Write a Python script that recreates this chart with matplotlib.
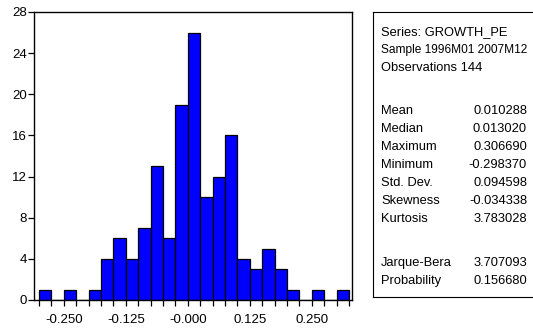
import matplotlib
matplotlib.use("Agg")
import matplotlib.pyplot as plt
import numpy as np

plt.rcParams['font.family'] = ['Liberation Sans', 'DejaVu Sans']

# Data
bin_start = -0.300
bin_width = 0.025
counts = [1, 0, 1, 0, 1, 4, 6, 4, 7, 13, 6, 19, 26, 10, 12, 16, 4, 3, 5, 3, 1, 0, 1, 0, 1]
xtick_values = [-0.250, -0.125, 0.000, 0.125, 0.250]
xtick_labels = ["-0.250", "-0.125", "-0.000", "0.125", "0.250"]
ytick_values = [0, 4, 8, 12, 16, 20, 24, 28]

header_lines = ["Series: GROWTH_PE", "Sample 1996M01 2007M12", "Observations 144"]
stat_names = ["Mean", "Median", "Maximum", "Minimum", "Std. Dev.", "Skewness", "Kurtosis"]
stat_values = ["0.010288", "0.013020", "0.306690", "-0.298370", "0.094598", "-0.034338", "3.783028"]
test_names = ["Jarque-Bera", "Probability"]
test_values = ["3.707093", "0.156680"]

W, H = 533, 330
fig = plt.figure(figsize=(W / 100, H / 100), dpi=100)
ax = fig.add_axes([34 / W, (H - 300) / H, (352 - 34) / W, (300 - 12) / H])

n = len(counts)
lefts = bin_start + bin_width * np.arange(n)
ax.bar(lefts, counts, width=bin_width, align='edge', color='#0000FF',
       edgecolor='black', linewidth=0.9)

ax.set_xlim(-0.310, 0.331)
ax.set_ylim(0, 28)
edges = bin_start + bin_width * np.arange(n + 1)
ax.set_xticks(xtick_values)
ax.set_xticklabels(xtick_labels)
ax.set_xticks(edges, minor=True)
ax.tick_params(axis='x', which='both', direction='out', length=4, width=0.9)
ax.tick_params(axis='x', which='major', pad=6, labelsize=9.5)
ax.set_yticks(ytick_values)
ax.tick_params(axis='y', direction='out', length=4, width=0.9, labelsize=9.5, pad=1)
for s in ax.spines.values():
    s.set_linewidth(1.0)

# Stats box
bax = fig.add_axes([373 / W, (H - 297) / H, (540 - 373) / W, (297 - 12) / H])
bax.set_xlim(373, 540)
bax.set_ylim(297, 12)
bax.set_xticks([])
bax.set_yticks([])
for s in bax.spines.values():
    s.set_linewidth(0.8)

fs = 9.3
x_left = 381
x_right = 527
step = 18.0
y = 32
for i, line in enumerate(header_lines):
    size = fs if i != 1 else 8.6
    bax.text(x_left, y, line, fontsize=size, va='center', ha='left')
    y += step
y = 111
for nm, v in zip(stat_names, stat_values):
    bax.text(x_left, y, nm, fontsize=fs, va='center', ha='left')
    bax.text(x_right, y, v, fontsize=fs, va='center', ha='right')
    y += step
y = 263
for nm, v in zip(test_names, test_values):
    bax.text(x_left, y, nm, fontsize=fs, va='center', ha='left')
    bax.text(x_right, y, v, fontsize=fs, va='center', ha='right')
    y += step

fig.savefig("out.png", dpi=100)
